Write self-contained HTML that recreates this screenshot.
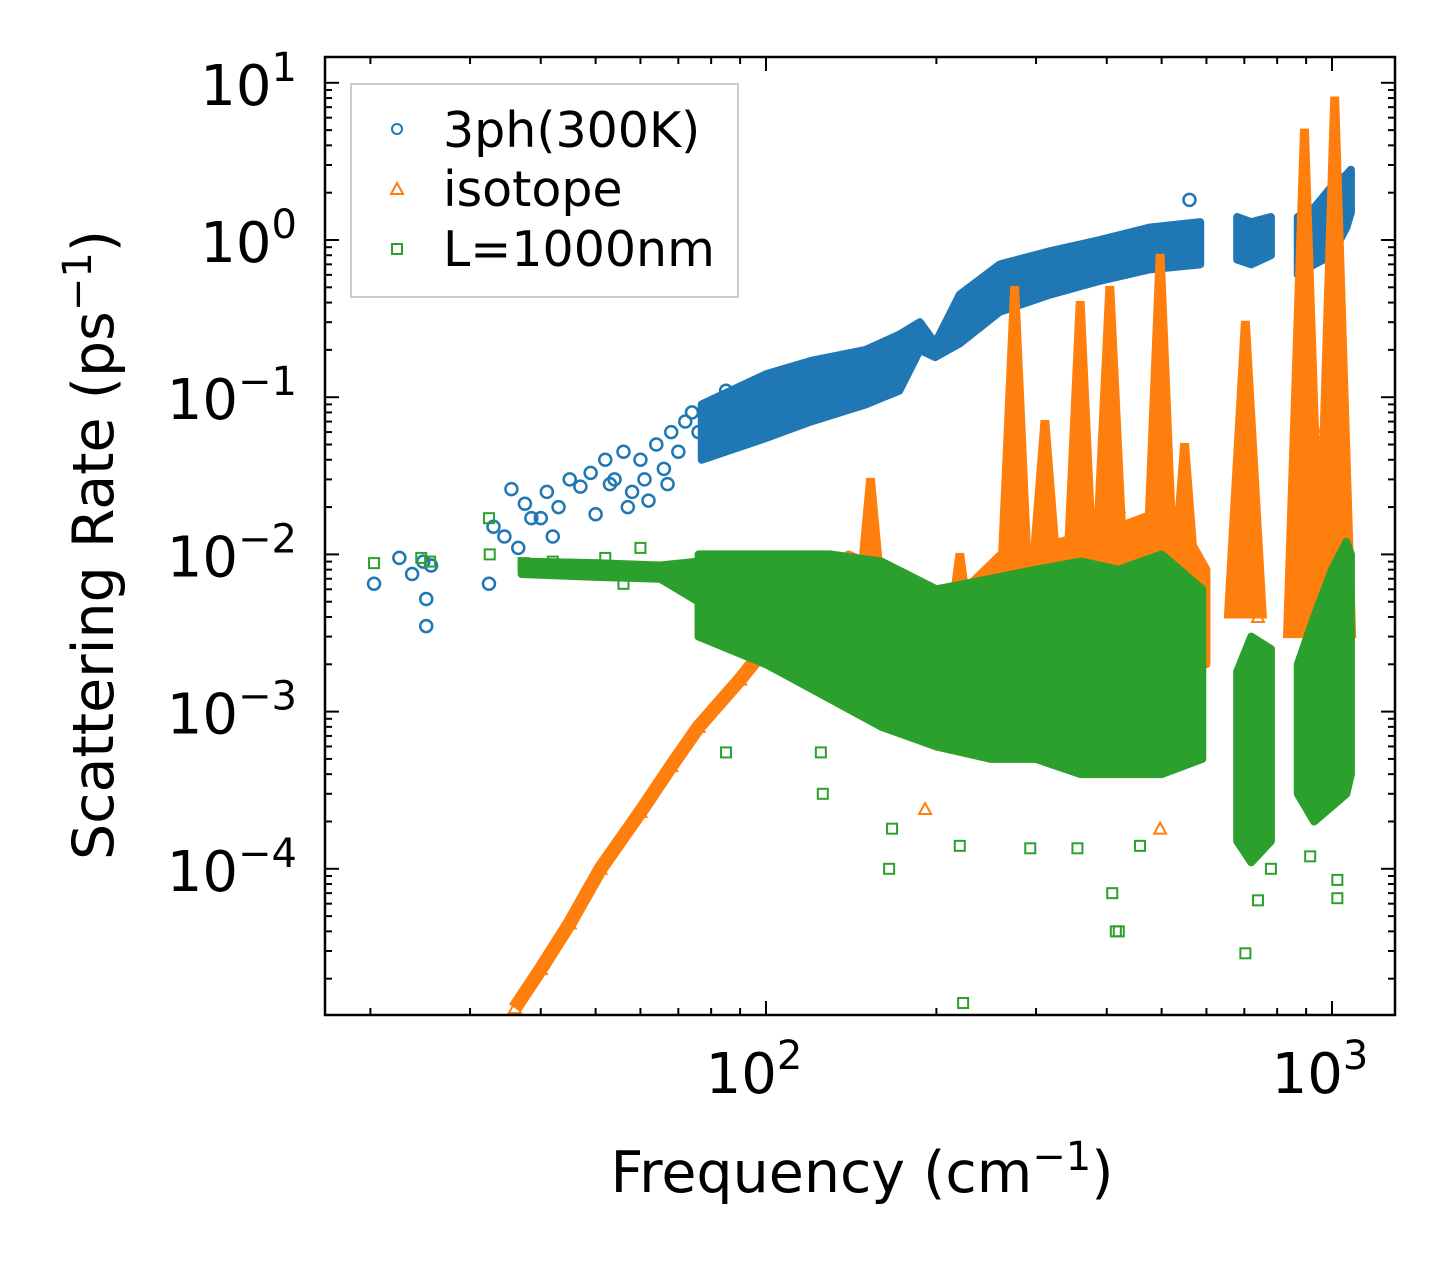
<!DOCTYPE html>
<html><head><meta charset="utf-8"><style>
html,body{margin:0;padding:0;background:#fff;}
svg{display:block;font-family:"DejaVu Sans","Liberation Sans",sans-serif;}
</style></head><body>
<svg id="chart" width="1455" height="1265" viewBox="0 0 1455 1265" xmlns="http://www.w3.org/2000/svg">
<g id="marks"></g>
<g id="axes"></g>
<g>
<rect x="351" y="84" width="387" height="213" fill="#fff" fill-opacity="0.8" stroke="#ccc" stroke-width="2"/>
<circle cx="397" cy="129" r="5" fill="none" stroke="#1f77b4" stroke-width="2"/>
<text x="443" y="147" font-size="49">3ph(300K)</text>
<path d="M397,183 L403,194 L391,194 Z" fill="none" stroke="#ff7f0e" stroke-width="2"/>
<text x="443" y="206" font-size="49">isotope</text>
<rect x="392" y="244" width="10" height="10" fill="none" stroke="#2ca02c" stroke-width="2"/>
<text x="443" y="266" font-size="49">L=1000nm</text>
</g>
<text x="862" y="1192" font-size="57" text-anchor="middle">Frequency (cm<tspan dy="-22" font-size="40">−1</tspan><tspan dy="22">)</tspan></text>
<text transform="translate(113,545) rotate(-90)" font-size="57" text-anchor="middle">Scattering Rate (ps<tspan dy="-22" font-size="40">−1</tspan><tspan dy="22">)</tspan></text>
</svg>
<script>
// ---- data ----
const blueBandF  = [77, 100, 120, 150, 172, 187, 199, 220, 259, 318, 389, 476, 585];
const blueBandLo = [0.04, 0.055, 0.07, 0.09, 0.11, 0.2, 0.18, 0.22, 0.35, 0.45, 0.55, 0.65, 0.7];
const blueBandHi = [0.09, 0.14, 0.17, 0.2, 0.25, 0.3, 0.22, 0.45, 0.7, 0.85, 1.0, 1.2, 1.3];
const blueBand2F  = [680, 720, 780];
const blueBand2Lo = [0.75, 0.7, 0.8];
const blueBand2Hi = [1.4, 1.3, 1.4];
const blueBand3F  = [870, 930, 1000, 1060, 1080];
const blueBand3Lo = [0.6, 0.7, 0.8, 1.2, 1.5];
const blueBand3Hi = [1.4, 1.6, 2.2, 2.6, 2.8];
const blueF = [20.3, 22.5, 23.7, 24.8, 25.1, 25.1, 25.6, 32.4, 33, 34.5, 35.5, 36.5, 37.5, 38.5, 40, 41, 42, 43, 45, 47, 49, 50, 52, 53, 54, 56, 57, 58, 60, 61, 62, 64, 66, 67, 68, 70, 72, 74, 76, 85, 560];
const blueR = [0.0065, 0.0095, 0.0075, 0.009, 0.0052, 0.0035, 0.0085, 0.0065, 0.015, 0.013, 0.026, 0.011, 0.021, 0.017, 0.017, 0.025, 0.013, 0.02, 0.03, 0.027, 0.033, 0.018, 0.04, 0.028, 0.03, 0.045, 0.02, 0.025, 0.04, 0.03, 0.022, 0.05, 0.035, 0.028, 0.06, 0.045, 0.07, 0.08, 0.06, 0.11, 1.8];

const orangeLineF = [36, 40, 45, 51, 60, 68, 76, 90, 102];
const orangeLineR = [1.3e-5, 2.3e-5, 4.5e-5, 1e-4, 2.3e-4, 4.5e-4, 8e-4, 1.6e-3, 2.8e-3];
const spikeF    = [130, 153, 220, 275, 311, 359, 405, 497, 549, 703, 894, 1011];
const spikePeak = [0.01, 0.03, 0.01, 0.5, 0.07, 0.4, 0.5, 0.8, 0.05, 0.3, 5, 8];
const spikeBase = [0.002, 0.002, 0.0015, 0.002, 0.003, 0.002, 0.003, 0.002, 0.002, 0.004, 0.003, 0.003];
const orangeF = [191, 497, 420, 740, 880, 960, 1000, 1040];
const orangeR = [2.4e-4, 1.8e-4, 0.02, 0.004, 0.02, 0.06, 0.07, 0.025];

const greenBandF  = [76, 100, 130, 160, 200, 250, 300, 360, 420, 500, 590];
const greenBandLo = [0.003, 0.002, 0.0012, 0.0008, 0.0006, 0.0005, 0.0005, 0.0004, 0.0004, 0.0004, 0.0005];
const greenBandHi = [0.01, 0.01, 0.01, 0.009, 0.006, 0.007, 0.008, 0.009, 0.008, 0.01, 0.006];
const greenRowF  = [37, 50, 65, 76];
const greenRowLo = [0.0075, 0.0072, 0.007, 0.005];
const greenRowHi = [0.009, 0.0088, 0.0085, 0.009];
const greenBand2F  = [680, 720, 780];
const greenBand2Lo = [0.00015, 0.00011, 0.00015];
const greenBand2Hi = [0.0018, 0.003, 0.0025];
const greenBand3F  = [870, 930, 1000, 1060, 1080];
const greenBand3Lo = [0.0003, 0.0002, 0.00025, 0.0003, 0.0004];
const greenBand3Hi = [0.002, 0.004, 0.008, 0.012, 0.01];
const greenF = [20.3, 24.6, 25.5, 32.4, 32.5, 37.3, 42, 46, 52, 56, 60, 85, 125, 126, 165, 167, 220, 223, 293, 355, 409, 415, 420, 458, 703, 740, 780, 915, 1022, 1022];
const greenR = [0.0088, 0.0095, 0.009, 0.017, 0.010, 0.0088, 0.009, 0.008, 0.0095, 0.0065, 0.011, 0.00055, 0.00055, 0.0003, 1e-4, 1.8e-4, 1.4e-4, 1.4e-5, 1.35e-4, 1.35e-4, 7e-5, 4e-5, 4e-5, 1.4e-4, 2.9e-5, 6.3e-5, 1e-4, 1.2e-4, 6.5e-5, 8.5e-5];

// ---- axes functions ----
const L=325,R=1395,T=57,B=1015;
const X = f => 766 + 566*Math.log10(f/100);
const Y = r => 240 - 157.2*Math.log10(r);
const NS="http://www.w3.org/2000/svg";
const marks=document.getElementById('marks'), axes=document.getElementById('axes');
function mk(tag,attrs,parent){const e=document.createElementNS(NS,tag);for(const k in attrs)e.setAttribute(k,attrs[k]);parent.appendChild(e);return e;}
function band(F,Lo,Hi,color,name){
  let d='M'+F.map((f,i)=>X(f)+','+Y(Hi[i])).join(' L');
  d+=' L'+F.slice().reverse().map((f,i)=>X(f)+','+Y(Lo[F.length-1-i])).join(' L')+' Z';
  const p=mk('path',{d:d,fill:color,stroke:color,'stroke-width':8,'stroke-linejoin':'round'},marks);
  
  
}
function pts(F,Rr,shape,color,name){
  F.forEach((f,i)=>{const x=X(f),y=Y(Rr[i]);let e;
    if(shape==='c')e=mk('circle',{cx:x,cy:y,r:6,fill:'none',stroke:color,'stroke-width':2.5},marks);
    else if(shape==='t')e=mk('path',{d:`M${x},${y-6} L${x+6},${y+5} L${x-6},${y+5} Z`,fill:'none',stroke:color,'stroke-width':2},marks);
    else e=mk('rect',{x:x-5,y:y-5,width:10,height:10,fill:'none',stroke:color,'stroke-width':2},marks);
    
    
  });
}
const cB='#1f77b4',cO='#ff7f0e',cG='#2ca02c';
band(blueBandF,blueBandLo,blueBandHi,cB,'3ph-band');
band(blueBand2F,blueBand2Lo,blueBand2Hi,cB,'3ph-band');
band(blueBand3F,blueBand3Lo,blueBand3Hi,cB,'3ph-band');
pts(blueF,blueR,'c',cB,'3ph-point');
// orange
pts(orangeLineF,orangeLineR,'t',cO,'isotope-point');
{let d='M'+orangeLineF.map((f,i)=>X(f)+','+Y(orangeLineR[i])).join(' L');
 const p=mk('path',{d:d,fill:'none',stroke:cO,'stroke-width':14,'stroke-linejoin':'round'},marks);
 
 }
band([100,120,140,160,200,260,330,420,520,600],[0.0025,0.002,0.002,0.002,0.001,0.0015,0.002,0.002,0.002,0.002],[0.004,0.007,0.01,0.008,0.004,0.01,0.012,0.015,0.02,0.008],cO,'isotope-band');
spikeF.forEach((f,i)=>{
  const x=X(f),w=20;
  const p=mk('path',{d:`M${x-w},${Y(spikeBase[i])} L${x-3},${Y(spikePeak[i])} L${x+3},${Y(spikePeak[i])} L${x+w},${Y(spikeBase[i])} Z`,fill:cO,stroke:cO,'stroke-width':3},marks);
  
  
});
pts(orangeF,orangeR,'t',cO,'isotope-point');
// green
band(greenRowF,greenRowLo,greenRowHi,cG,'boundary-band');
band(greenBandF,greenBandLo,greenBandHi,cG,'boundary-band');
band(greenBand2F,greenBand2Lo,greenBand2Hi,cG,'boundary-band');
band(greenBand3F,greenBand3Lo,greenBand3Hi,cG,'boundary-band');
pts(greenF,greenR,'s',cG,'boundary-point');

// axes frame & ticks
const fr=mk('rect',{x:L,y:T,width:R-L,height:B-T,fill:'none',stroke:'#000','stroke-width':2.5},axes);


for(let e=1;e<=3;e++)for(let m=1;m<10;m++){const f=m*Math.pow(10,e);const x=X(f);if(x<L||x>R)continue;
  const len=m===1?14:7;
  mk('line',{x1:x,y1:B,x2:x,y2:B-len,stroke:'#000','stroke-width':2},axes);
  mk('line',{x1:x,y1:T,x2:x,y2:T+len,stroke:'#000','stroke-width':2},axes);
  if(m===1){const t=mk('text',{x:x-12,y:B+78,'font-size':56,'text-anchor':'middle'},axes);t.innerHTML=`10<tspan dy="-24" font-size="40">${e}</tspan>`;
    
    }
}
for(let e=-5;e<=1;e++)for(let m=1;m<10;m++){const r=m*Math.pow(10,e);const y=Y(r);if(y<T||y>B)continue;
  const len=m===1?14:7;
  mk('line',{x1:L,y1:y,x2:L+len,y2:y,stroke:'#000','stroke-width':2},axes);
  mk('line',{x1:R,y1:y,x2:R-len,y2:y,stroke:'#000','stroke-width':2},axes);
  if(m===1){const t=mk('text',{x:L-28,y:y+22,'font-size':56,'text-anchor':'end'},axes);t.innerHTML=`10<tspan dy="-24" font-size="40">${e<0?'−'+(-e):e}</tspan>`;
    
    }
}
</script>
</body></html>
